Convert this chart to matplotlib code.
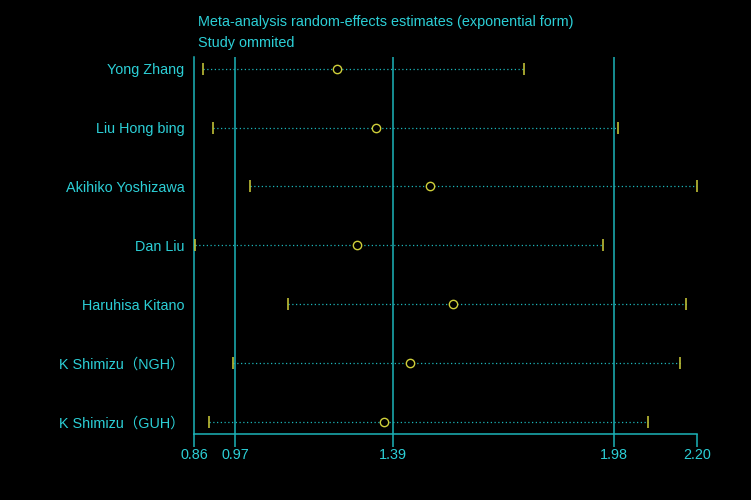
import numpy as np
import matplotlib
matplotlib.use("Agg")
import matplotlib.pyplot as plt

# donnees
studies = ["Yong Zhang", "Liu Hong bing", "Akihiko Yoshizawa", "Dan Liu",
           "Haruhisa Kitano", "K Shimizu（NGH）", "K Shimizu（GUH）"]
estimate = [1.24, 1.345, 1.49, 1.295, 1.55, 1.435, 1.365]
lower = [0.885, 0.91, 1.01, 0.864, 1.11, 0.965, 0.90]
upper = [1.74, 1.99, 2.20, 1.95, 2.17, 2.155, 2.07]
ref_lines = [0.97, 1.39, 1.98]
xticks = [0.86, 0.97, 1.39, 1.98, 2.20]

cyan = "#2ccfd6"
teal = "#1cb4b8"
yellow = "#cfcf3a"
fam = ["Liberation Sans", "Noto Sans CJK SC", "DejaVu Sans"]
fs = 10.4

fig = plt.figure(figsize=(7.51, 5.0), dpi=100, facecolor="black")
ax = fig.add_axes([0.2583, 0.132, 0.6697, 0.754], facecolor="black")

n = len(studies)
ypos = np.arange(n, 0, -1)

for v in ref_lines:
    ax.axvline(v, color=teal, lw=1.1, zorder=1)

for y, lo, est, hi in zip(ypos, lower, estimate, upper):
    ax.plot([lo, hi], [y, y], color=teal, lw=0.9, linestyle=(0, (1, 2)), zorder=2)
    ax.plot([lo, hi], [y, y], linestyle="none", marker="|", ms=8.5, mew=1.1,
            color=yellow, zorder=3)
    ax.plot(est, y, marker="o", ms=6, mfc="black", mec=yellow, mew=1, zorder=4)

ax.set_xlim(0.86, 2.20)
ax.set_ylim(0.79, n + 0.2)
ax.set_xticks(xticks)
ax.set_xticklabels(["%.2f" % t for t in xticks])
ax.set_yticks(ypos)
ax.set_yticklabels(studies)

for lab in ax.get_xticklabels() + ax.get_yticklabels():
    lab.set_family(fam)
    lab.set_fontsize(fs)
    lab.set_color(cyan)

ax.tick_params(axis="x", colors=teal, length=9, width=1.1, pad=1, labelcolor=cyan)
ax.tick_params(axis="y", length=0, pad=7, labelcolor=cyan)

for s in ["top", "right"]:
    ax.spines[s].set_visible(False)
for s in ["left", "bottom"]:
    ax.spines[s].set_color(teal)
    ax.spines[s].set_linewidth(1.1)

fig.text(0.2636, 0.956, "Meta-analysis random-effects estimates (exponential form)",
         color=cyan, fontsize=fs, family=fam, va="center", ha="left")
fig.text(0.2636, 0.914, "Study ommited", color=cyan, fontsize=fs, family=fam,
         va="center", ha="left")

fig.savefig("out.png", dpi=100, facecolor="black")
